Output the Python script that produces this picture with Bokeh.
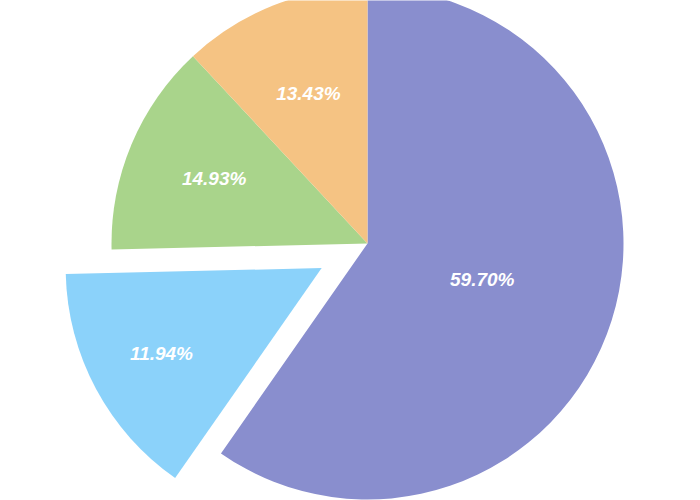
import math
from bokeh.plotting import figure
from bokeh.models import ColumnDataSource, Range1d
from bokeh.core.properties import value
from bokeh.embed import file_html
from bokeh.resources import INLINE

# Data (clockwise from 12 o'clock)
categories = ["A", "B", "C", "D"]
counts = [40, 10, 9, 8]
label_texts = ["59.70%", "11.94%", "14.93%", "13.43%"]
colors = ["#898ECE", "#8BD2FA", "#A9D48B", "#F5C383"]
exploded = [0, 1, 0, 0]

# Layout / style
W, H = 700, 500
CX, CY, R = 367, 257, 256
EXPLODE = 52
label_frac = [0.47, 0.71, 0.65, 0.63]

total = float(sum(counts))
starts, ends, xs, ys, lx, ly = [], [], [], [], [], []
cum = 0.0
for i, c in enumerate(counts):
    a0 = math.pi / 2 - cum / total * 2 * math.pi
    cum += c
    a1 = math.pi / 2 - cum / total * 2 * math.pi
    mid = (a0 + a1) / 2
    ox = math.cos(mid) * EXPLODE * exploded[i]
    oy = math.sin(mid) * EXPLODE * exploded[i]
    starts.append(a0)
    ends.append(a1)
    xs.append(CX + ox)
    ys.append(CY + oy)
    lx.append(CX + ox + math.cos(mid) * R * label_frac[i])
    ly.append(CY + oy + math.sin(mid) * R * label_frac[i])

src = ColumnDataSource(dict(cat=categories, x=xs, y=ys, start=starts, end=ends,
                            color=colors, lx=lx, ly=ly, label=label_texts))

p = figure(width=W, height=H, output_backend="svg", toolbar_location=None,
           x_range=Range1d(0, W), y_range=Range1d(0, H),
           min_border=0, min_border_left=0, min_border_right=0,
           min_border_top=0, min_border_bottom=0)
p.axis.visible = False
p.grid.visible = False
p.outline_line_color = None
p.background_fill_color = "white"
p.border_fill_color = "white"

p.wedge(x="x", y="y", radius=R, start_angle="start", end_angle="end",
        direction="clock", fill_color="color", line_color=None, source=src)

p.text(x="lx", y="ly", text="label", source=src, text_color="white",
       text_align="center", text_baseline="middle",
       text_font=value("Liberation Sans"), text_font_style="bold italic",
       text_font_size="19px")

open("out.html", "w").write(file_html(p, INLINE))
